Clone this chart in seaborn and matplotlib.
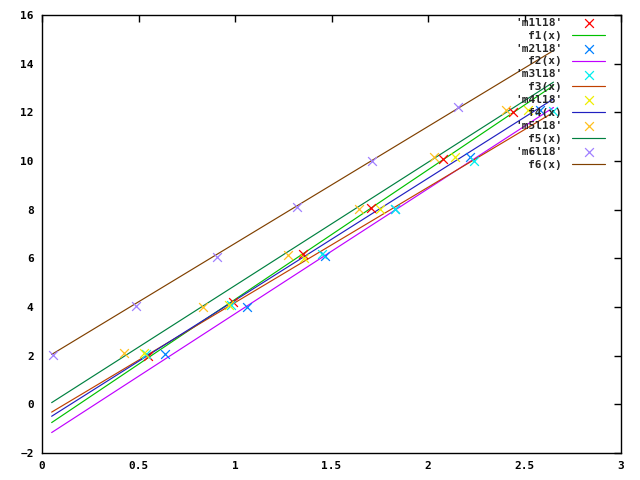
import matplotlib
matplotlib.use("Agg")
import matplotlib.pyplot as plt
import seaborn as sns
import pandas as pd

# ---- data ----
m1_x = [0.55, 0.99, 1.354, 1.703, 2.08, 2.44]
m1_y = [2.0, 4.2, 6.16, 8.08, 10.09, 12.0]
m2_x = [0.637, 1.064, 1.466, 1.83, 2.218, 2.58]
m2_y = [2.08, 4.0, 6.09, 8.03, 10.16, 12.1]
m3_x = [0.54, 0.98, 1.449, 1.83, 2.24, 2.65]
m3_y = [2.05, 4.1, 6.19, 8.03, 10.02, 12.07]
m4_x = [0.53, 0.97, 1.36, 1.751, 2.14, 2.52]
m4_y = [2.1, 4.1, 6.02, 8.03, 10.16, 12.1]
m5_x = [0.426, 0.836, 1.273, 1.64, 2.03, 2.404]
m5_y = [2.1, 4.02, 6.12, 8.03, 10.16, 12.1]
m6_x = [0.055, 0.487, 0.908, 1.32, 1.708, 2.157]
m6_y = [2.04, 4.04, 6.05, 8.13, 10.02, 12.2]

line_x = [0.05, 2.65]
f1_y = [-0.75, 13.1]
f2_y = [-1.16, 12.2]
f3_y = [-0.32, 12.0]
f4_y = [-0.49, 12.55]
f5_y = [0.07, 13.24]
f6_y = [2.05, 14.54]

point_labels = ["'m1l18'", "'m2l18'", "'m3l18'", "'m4l18'", "'m5l18'", "'m6l18'"]
line_labels = ["f1(x)", "f2(x)", "f3(x)", "f4(x)", "f5(x)", "f6(x)"]
point_colors = ["#ff0000", "#0080ff", "#00eeee", "#eeee00", "#ffc020", "#a080ff"]
line_colors = ["#00c000", "#c000ff", "#c04000", "#2020c0", "#008040", "#804000"]

x_ticks = [0, 0.5, 1, 1.5, 2, 2.5, 3]
x_tick_labels = ["0", "0.5", "1", "1.5", "2", "2.5", "3"]
y_ticks = [-2, 0, 2, 4, 6, 8, 10, 12, 14, 16]

points = [(m1_x, m1_y), (m2_x, m2_y), (m3_x, m3_y), (m4_x, m4_y), (m5_x, m5_y), (m6_x, m6_y)]
lines = [f1_y, f2_y, f3_y, f4_y, f5_y, f6_y]

# ---- plot ----
sns.set_style("white")
plt.rcParams["font.family"] = ["DejaVu Sans Mono", "DejaVu Sans"]
plt.rcParams["font.weight"] = "bold"

fig = plt.figure(figsize=(6.4, 4.8), dpi=100)
ax = fig.add_axes([42 / 640, 1 - 453 / 480, (621 - 42) / 640, (453 - 15) / 480])

for i in range(6):
    px, py = points[i]
    dfp = pd.DataFrame({"x": px, "y": py})
    sns.scatterplot(data=dfp, x="x", y="y", ax=ax, marker="x", s=40,
                    color=point_colors[i], linewidth=0.9, label=point_labels[i],
                    legend=False, zorder=3)
    dfl = pd.DataFrame({"x": line_x, "y": lines[i]})
    sns.lineplot(data=dfl, x="x", y="y", ax=ax, color=line_colors[i],
                 linewidth=0.85, label=line_labels[i], legend=False, zorder=2)

ax.set_xlim(0, 3)
ax.set_ylim(-2, 16)
ax.set_xticks(x_ticks)
ax.set_xticklabels(x_tick_labels)
ax.set_yticks(y_ticks)
ax.set_xlabel("")
ax.set_ylabel("")
ax.tick_params(direction="in", length=5, width=1, top=True, right=True,
               labelsize=8, colors="black", pad=6)
for lab in ax.get_xticklabels() + ax.get_yticklabels():
    lab.set_fontweight("bold")
for sp in ax.spines.values():
    sp.set_color("black")
    sp.set_linewidth(1.0)
    sp.set_visible(True)

handles, labels = ax.get_legend_handles_labels()
leg = ax.legend(handles, labels, loc="upper right", bbox_to_anchor=(0.978, 1.0),
                markerfirst=False, frameon=False, fontsize=8, handlelength=3.0,
                handletextpad=0.9, labelspacing=0.26, borderaxespad=0.1,
                borderpad=0.15, handleheight=0.6)
for t in leg.get_texts():
    t.set_fontweight("bold")

fig.savefig("out.png", dpi=100)
